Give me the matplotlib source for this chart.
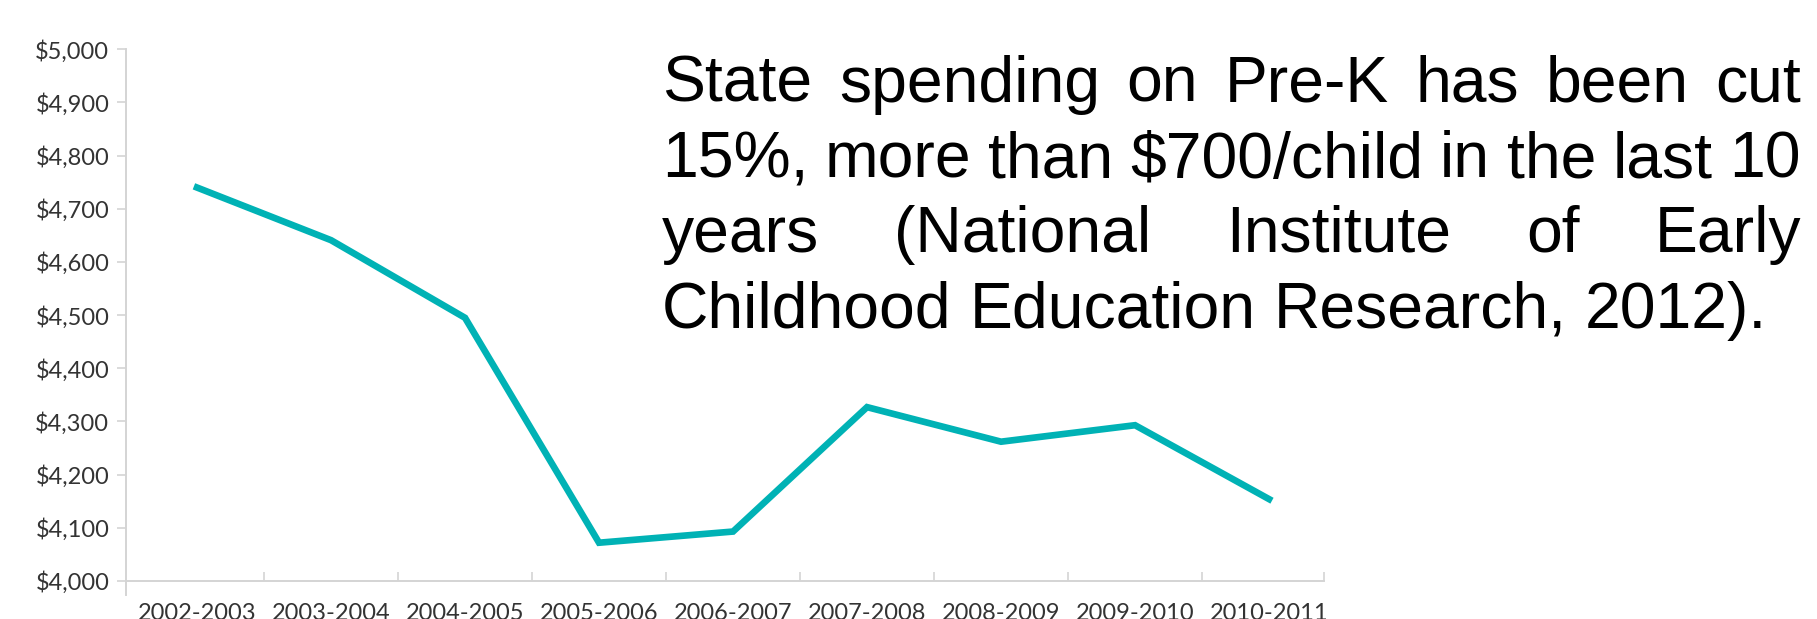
import numpy as np
import matplotlib
matplotlib.use('Agg')
import matplotlib.pyplot as plt

# datos
years = ['2002-2003', '2003-2004', '2004-2005', '2005-2006', '2006-2007',
         '2007-2008', '2008-2009', '2009-2010', '2010-2011']
spending = [4740, 4641, 4495, 4072, 4093, 4327, 4262, 4293, 4154]
yticks = np.arange(4000, 5001, 100)

texto = ["State spending on Pre-K has been cut",
         "15%, more than $700/child in the last 10",
         "years (National Institute of Early",
         "Childhood Education Research, 2012)."]

W, H = 1817, 619
fig = plt.figure(figsize=(W / 100, H / 100), dpi=100)
ax = fig.add_axes([126 / W, 38 / H, (1324 - 126) / W, (581 - 49.3) / H])

x = np.arange(len(years))
ax.plot(x, spending, color='#00b2b5', lw=4.8, solid_joinstyle='miter')

ax.set_ylim(4000, 5000)
ax.set_xlim(-0.53, 8.41)
ax.set_yticks(yticks)
ax.set_yticklabels(['${:,}'.format(v) for v in yticks])

# etiquetas de categorias en el centro, ticks en los limites
ax.set_xticks(x)
ax.set_xticklabels(years)
ax.set_xticks(list(np.arange(0.5, 8, 1)) + [8.41], minor=True)
ax.tick_params(axis='x', which='major', length=0, pad=16)
ax.tick_params(axis='x', which='minor', direction='in', length=6.5,
               width=1.2, color='#d4d4d4')
ax.tick_params(axis='y', length=6.5, width=1.2, color='#d4d4d4', pad=5.5)

for lab in ax.get_xticklabels() + ax.get_yticklabels():
    lab.set_fontfamily('Lato')
    lab.set_fontsize(17)
    lab.set_color('#333333')

for s in ['top', 'right']:
    ax.spines[s].set_visible(False)
for s in ['left', 'bottom']:
    ax.spines[s].set_color('#d4d4d4')
    ax.spines[s].set_linewidth(1.4)
ax.spines['left'].set_bounds(3974, 5000)
ax.spines['left'].set_clip_on(False)

# texto justificado
fig.canvas.draw()
r = fig.canvas.get_renderer()
left, right = 662, 1801
bases = [102, 177, 252, 328]
fs = 46.3
fam = 'Liberation Sans'
w_a = fig.text(0, 0, 'a', fontsize=fs, family=fam)
w_aa = fig.text(0, 0, 'a a', fontsize=fs, family=fam)
espacio = w_aa.get_window_extent(r).width - 2 * w_a.get_window_extent(r).width
w_a.remove()
w_aa.remove()
for i, linea in enumerate(texto):
    palabras = linea.split(' ')
    ts = [fig.text(0, 0, p, fontsize=fs, family=fam,
                   va='baseline', ha='left') for p in palabras]
    ws = [t.get_window_extent(r).width for t in ts]
    if i < len(texto) - 1:
        gap = (right - left - sum(ws)) / (len(ws) - 1)
    else:
        gap = espacio
    xx = left
    for t, w in zip(ts, ws):
        t.set_position((xx / W, 1 - bases[i] / H))
        xx += w + gap

fig.savefig('out.png', dpi=100)
